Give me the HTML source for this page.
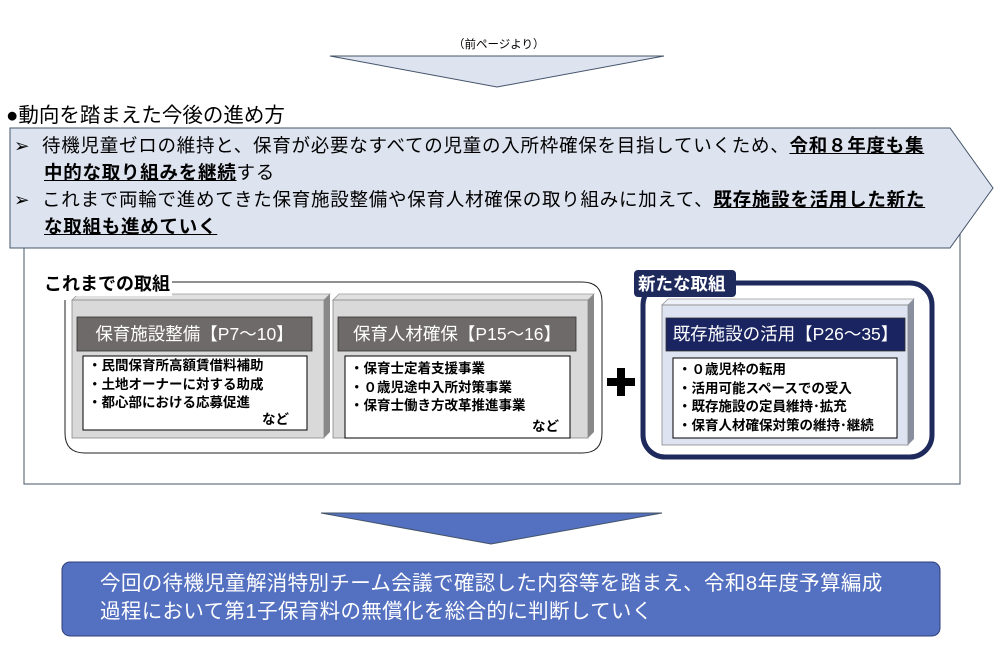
<!DOCTYPE html>
<html><head><meta charset="utf-8"><style>
body{margin:0;width:997px;height:645px;background:#fff;position:relative;overflow:hidden;font-family:"Liberation Sans","Noto Sans CJK JP",sans-serif;color:#000}
.a{position:absolute;white-space:nowrap}
.b{font-weight:bold}
.u{font-weight:bold;text-decoration:underline}
.l{font-size:13.5px;font-weight:bold;line-height:18.5px}
.h{color:#fff;font-size:17.5px;text-align:center;line-height:34px}
</style></head><body>
<svg width="997" height="645" style="position:absolute;left:0;top:0">
<polygon points="330,56 664,56 497,87" fill="#dde3ef" stroke="#44546a" stroke-width="1"/>
<rect x="24" y="222" width="936" height="262" fill="#fff" stroke="#44546a" stroke-width="1"/>
<polygon points="10,128 950,128 993,188 950,248 10,248" fill="#dde3ef" stroke="#44546a" stroke-width="1"/>
<path d="M170,282 L582,282 Q602,282 602,302 L602,433 Q602,453 582,453 L85,453 Q65,453 65,433 L65,300" fill="none" stroke="#222" stroke-width="1"/>
<polygon points="72,300 78,294 330,294 324,300" fill="#e0e0e0" stroke="#999" stroke-width="0.8"/>
<polygon points="324,300 330,294 330,432 324,438" fill="#888"/>
<rect x="72" y="300" width="252" height="138" fill="#d9d9d9" stroke="#888" stroke-width="0.8"/>
<rect x="77" y="317" width="235" height="34" fill="#6e6a69" stroke="#333" stroke-width="0.8"/>
<rect x="83" y="356" width="224" height="74" fill="#fff" stroke="#000" stroke-width="1"/>
<polygon points="333,300 339,294 594,294 588,300" fill="#e0e0e0" stroke="#999" stroke-width="0.8"/>
<polygon points="588,300 594,294 594,432 588,438" fill="#888"/>
<rect x="333" y="300" width="255" height="138" fill="#d9d9d9" stroke="#888" stroke-width="0.8"/>
<rect x="338" y="317" width="238" height="34" fill="#6e6a69" stroke="#333" stroke-width="0.8"/>
<rect x="345" y="356" width="225" height="82" fill="#fff" stroke="#000" stroke-width="1"/>
<rect x="617" y="368" width="8" height="28" fill="#000"/>
<rect x="607" y="378" width="28" height="8" fill="#000"/>
<rect x="643" y="283" width="289" height="174" rx="22" fill="#fff" stroke="#1f2a5c" stroke-width="5"/>
<rect x="634" y="270" width="102" height="27" rx="4" fill="#1f2a5c"/>
<polygon points="662,305 668,299 914,299 908,305" fill="#eef1f8" stroke="#999" stroke-width="0.8"/>
<polygon points="908,305 914,299 914,439 908,445" fill="#8a8fa0"/>
<rect x="662" y="305" width="246" height="140" fill="#dde3f0" stroke="#888" stroke-width="0.8"/>
<rect x="666" y="318" width="239" height="33" fill="#1a2461" stroke="#333" stroke-width="0.8"/>
<rect x="673" y="358" width="224" height="80" fill="#fff" stroke="#000" stroke-width="1"/>
<polygon points="321,513 662,513 491,544" fill="#5470c0" stroke="#44546a" stroke-width="1"/>
<rect x="62" y="562" width="878" height="74" rx="8" fill="#5470c0" stroke="#2f3f7a" stroke-width="1"/>
</svg>
<div class="a" style="left:453px;top:36px;font-size:11.5px">（前ページより）</div>
<div class="a" style="left:6px;top:98px;font-size:20.5px">●動向を踏まえた今後の進め方</div>
<div class="a" style="left:14px;top:132px;font-size:18.5px;line-height:27px;letter-spacing:0.75px">
<div>➢&nbsp;&nbsp;待機児童ゼロの維持と、保育が必要なすべての児童の入所枠確保を目指していくため、<span class="u">令和８年度も集</span></div>
<div style="padding-left:30px"><span class="u">中的な取り組みを継続</span>する</div>
<div>➢&nbsp;&nbsp;これまで両輪で進めてきた保育施設整備や保育人材確保の取り組みに加えて、<span class="u">既存施設を活用した新た</span></div>
<div style="padding-left:30px"><span class="u">な取組も進めていく</span></div>
</div>
<div class="a b" style="left:44px;top:270px;font-size:18px;background:#fff;padding-right:2px">これまでの取組</div>
<div class="a h" style="left:77px;top:317px;width:235px">保育施設整備【P7～10】</div>
<div class="a h" style="left:338px;top:317px;width:238px">保育人材確保【P15～16】</div>
<div class="a h" style="left:666px;top:317px;width:239px">既存施設の活用【P26～35】</div>
<div class="a b" style="left:638px;top:271px;font-size:17.5px;color:#fff">新たな取組</div>
<div class="a l" style="left:88px;top:357px">・民間保育所高額賃借料補助<br>・土地オーナーに対する助成<br>・都心部における応募促進</div>
<div class="a l" style="left:262px;top:411px">など</div>
<div class="a l" style="left:350px;top:360px">・保育士定着支援事業<br>・０歳児途中入所対策事業<br>・保育士働き方改革推進事業</div>
<div class="a l" style="left:532px;top:418px">など</div>
<div class="a l" style="left:678px;top:361px">・０歳児枠の転用<br>・活用可能スペースでの受入<br>・既存施設の定員維持･拡充<br>・保育人材確保対策の維持･継続</div>
<div class="a" style="left:100px;top:570px;font-size:20.5px;line-height:28px;color:#fff;letter-spacing:0.35px">今回の待機児童解消特別チーム会議で確認した内容等を踏まえ、令和8年度予算編成<br>過程において第1子保育料の無償化を総合的に判断していく</div>
</body></html>
